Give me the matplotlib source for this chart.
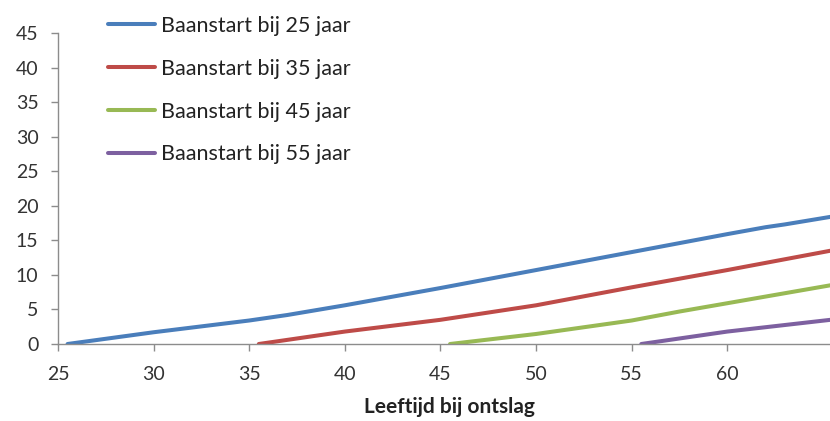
import matplotlib.pyplot as plt

# leeftijd (x) en waarde (y) per lijn
age_25 = [25.5, 30, 35, 37, 40, 45, 50, 55, 60, 62, 63, 65.4]
val_25 = [0, 1.7, 3.4, 4.2, 5.6, 8.1, 10.7, 13.3, 15.9, 16.9, 17.3, 18.4]

age_35 = [35.5, 40, 45, 50, 55, 60, 65.4]
val_35 = [0, 1.8, 3.5, 5.6, 8.2, 10.7, 13.5]

age_45 = [45.5, 50, 55, 57.5, 60, 65.4]
val_45 = [0, 1.45, 3.4, 4.7, 5.9, 8.5]

age_55 = [55.5, 60, 65.4]
val_55 = [0, 1.8, 3.5]

labels = ["Baanstart bij 25 jaar", "Baanstart bij 35 jaar",
          "Baanstart bij 45 jaar", "Baanstart bij 55 jaar"]
colors = ["#4A7EBB", "#BE4B48", "#98B954", "#7D60A0"]

xticks = [25, 30, 35, 40, 45, 50, 55, 60]
yticks = [0, 5, 10, 15, 20, 25, 30, 35, 40, 45]

plt.rcParams['font.family'] = ['Lato', 'DejaVu Sans']

fig = plt.figure(figsize=(8.3, 4.21), dpi=100)
ax = fig.add_axes([58 / 830, 77 / 421, 772 / 830, 311 / 421])

series = [(age_25, val_25), (age_35, val_35), (age_45, val_45), (age_55, val_55)]
for (x, y), lab, col in zip(series, labels, colors):
    ax.plot(x, y, color=col, lw=2.9, label=lab, solid_capstyle='round')

ax.set_xlim(25, 65.37)
ax.set_ylim(0, 45)
ax.set_xticks(xticks)
ax.set_yticks(yticks)
ax.tick_params(axis='both', direction='out', length=5, width=1, color='#8c8c8c',
               labelsize=14, labelcolor='#333333', pad=9)
ax.tick_params(axis='x', pad=11)
for s in ['top', 'right']:
    ax.spines[s].set_visible(False)
for s in ['left', 'bottom']:
    ax.spines[s].set_color('#8c8c8c')
    ax.spines[s].set_linewidth(1)

fig.legend(loc='upper left', bbox_to_anchor=(108 / 830, 1 - 16 / 421), frameon=False,
           fontsize=15.5, handlelength=2.2, handletextpad=0.25, labelspacing=1.06,
           labelcolor='#222222', borderaxespad=0, borderpad=0)

fig.text(449 / 830, 1 - 397 / 421, "Leeftijd bij ontslag", ha='center', va='top',
         fontsize=15, fontweight='bold', color='#222222')

fig.savefig("out.png", dpi=100)
